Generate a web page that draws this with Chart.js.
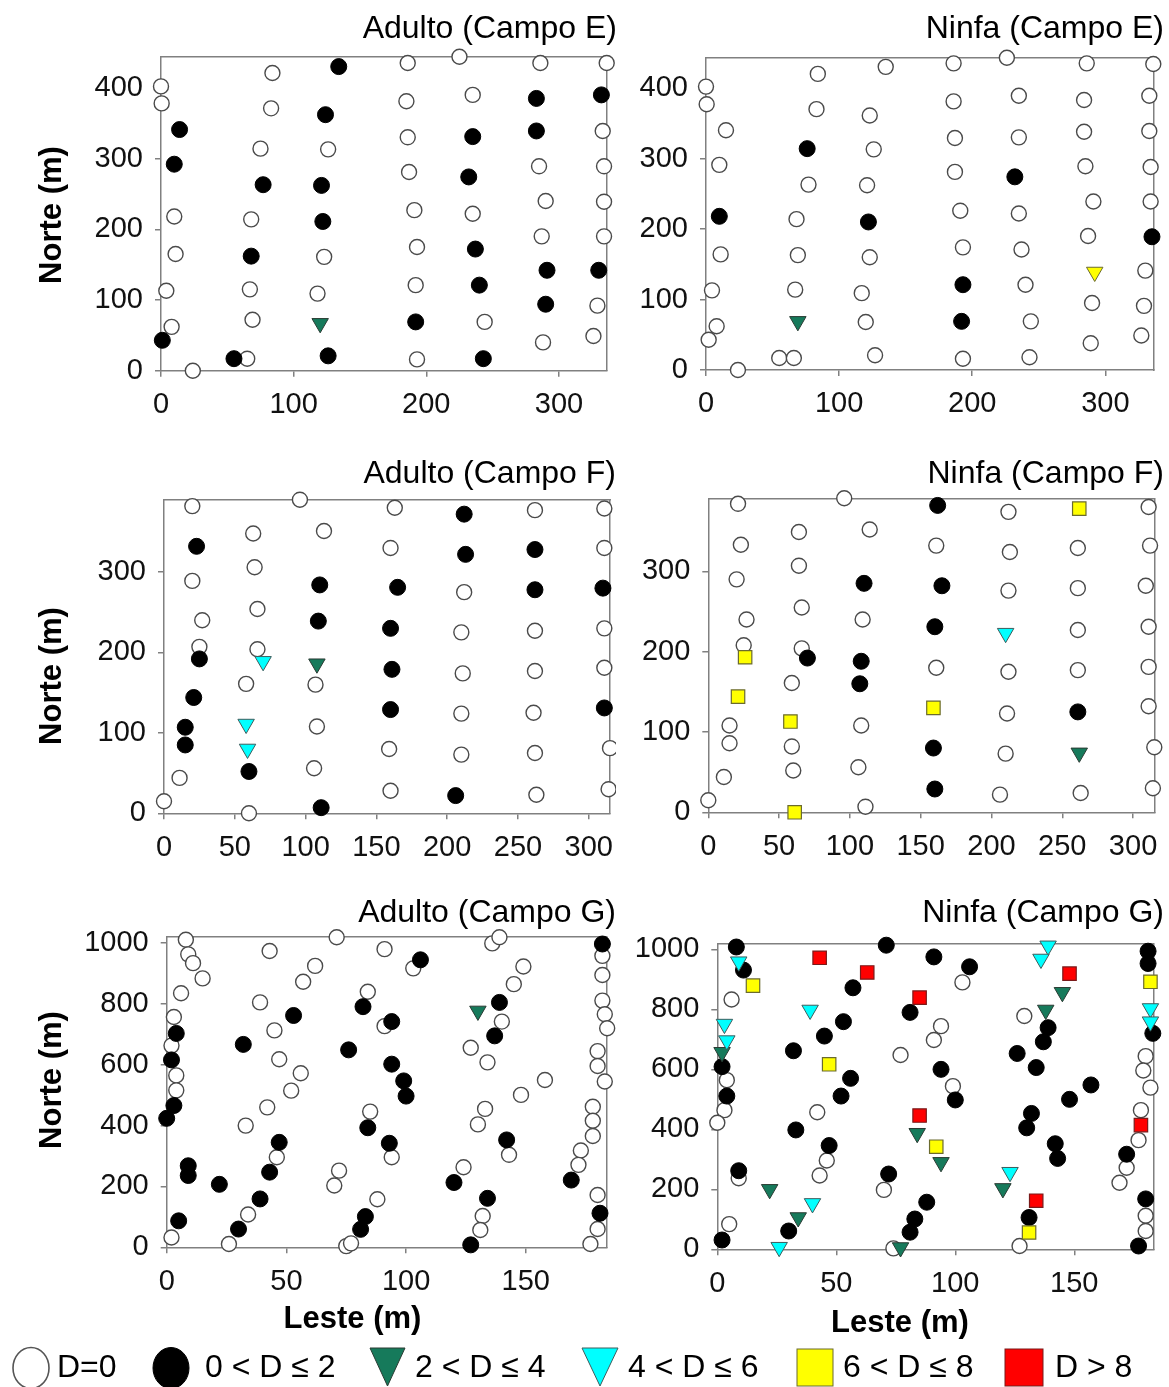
<!DOCTYPE html>
<html><head><meta charset="utf-8">
<script src="https://cdn.jsdelivr.net/npm/chart.js@4.4.1/dist/chart.umd.min.js"></script>
<style>
html,body{margin:0;padding:0;background:#fff;}
body{width:1169px;height:1387px;position:relative;overflow:hidden;}
canvas{position:absolute;}
#overlay{position:absolute;left:0;top:0;pointer-events:none;}
</style></head><body>
<canvas id="c1"></canvas><canvas id="c2"></canvas><canvas id="c3"></canvas>
<canvas id="c4"></canvas><canvas id="c5"></canvas><canvas id="c6"></canvas>
<svg id="overlay" width="1169" height="1387" xmlns="http://www.w3.org/2000/svg"></svg>
<script>
// ---------- tick values ----------
const xTicksE = [0,100,200,300];
const yTicksE = [0,100,200,300,400];
const xTicksF = [0,50,100,150,200,250,300];
const yTicksF = [0,100,200,300];
const xTicksG = [0,50,100,150];
const yTicksG = [0,200,400,600,800,1000];

// ---------- labels ----------
const panelTitles = ['Adulto (Campo E)','Ninfa (Campo E)','Adulto (Campo F)','Ninfa (Campo F)','Adulto (Campo G)','Ninfa (Campo G)'];
const legendLabels = ['D=0','0 < D \u2264 2','2 < D \u2264 4','4 < D \u2264 6','6 < D \u2264 8','D > 8'];
const yAxisTitle = 'Norte (m)';
const xAxisTitle = 'Leste (m)';

// ---------- Adulto (Campo E) ----------
const adultoE_D0 = [[0,402],[0.5,378],[84,421],[83,371],[75,314],[126,313],[68,214],[10,218],[11,165],[123,161],[4,113],[67,115],[118,109],[8,62],[69,72],[65,17],[24,0],[186,435],[225,444],[286,435],[336,435],[185,381],[235,390],[186,330],[333,339],[187,281],[285,289],[334,289],[191,227],[235,222],[290,240],[334,239],[193,175],[287,190],[334,190],[192,121],[244,69],[329,92],[288,40],[326,49],[193,16]];
const adultoE_D1 = [[134,430],[14,341],[124,362],[10,292],[283,385],[332,390],[283,339],[235,331],[77,263],[121,262],[232,274],[122,211],[68,162],[237,172],[291,142],[330,142],[240,121],[290,94],[192,69],[1,43],[55,17],[126,21],[243,17]];
const adultoE_D2 = [[120,67]];

// ---------- Ninfa (Campo E) ----------
const ninfaE_D0 = [[0,402],[0.5,377],[15,340],[10,291],[11,164],[4.5,113],[8,62],[2,43],[24,0],[84,420],[83,370],[77,263],[68,214],[69,163],[67,114],[55,17],[66,17],[135,430],[123,361],[126,313],[121,262],[123,160],[117,109],[120,68],[127,21],[186,435],[186,381],[187,329],[187,281],[191,226],[193,174],[193,16],[226,443],[235,389],[235,330],[235,222],[237,171],[240,121],[244,69],[243,18],[286,435],[284,383],[284,338],[285,289],[291,239],[287,190],[290,95],[289,38],[336,434],[333,389],[333,339],[334,288],[334,239],[330,141],[329,91],[327,49]];
const ninfaE_D1 = [[76,314],[10,218],[122,210],[232,274],[335,189],[193,121],[192,69]];
const ninfaE_D2 = [[69,69]];
const ninfaE_D4 = [[292,139]];

// ---------- Adulto (Campo F) ----------
const adultoF_D0 = [[20,382],[96,390],[63,348],[113,351],[163,380],[262,377],[311,379],[160,330],[311,330],[64,306],[20,289],[212,275],[66,254],[27,240],[210,225],[262,227],[311,230],[25,207],[66,204],[211,174],[262,177],[311,181],[58,161],[107,160],[108,108],[210,124],[261,125],[159,80],[210,73],[262,75],[315,81],[11,44],[106,56],[160,28],[263,23],[314,30],[0,15],[60,0]];
const adultoF_D1 = [[23,332],[212,372],[213,322],[262,328],[110,284],[165,281],[262,278],[310,280],[109,239],[160,230],[25,192],[161,179],[21,144],[160,129],[311,131],[15,107],[15,85],[60,52],[206,22],[111,7]];
const adultoF_D2 = [[108,186]];
const adultoF_D3 = [[70,189],[58,111],[59,80]];

// ---------- Ninfa (Campo F) ----------
const ninfaF_D0 = [[21,384],[96,391],[64,349],[114,352],[212,374],[311,380],[23,333],[161,332],[213,324],[261,329],[312,332],[64,307],[20,290],[212,276],[261,279],[309,282],[66,255],[27,240],[109,240],[261,227],[311,231],[25,208],[66,204],[161,180],[212,175],[261,177],[311,181],[59,161],[211,123],[311,132],[108,108],[15,108],[15,86],[59,82],[210,73],[315,81],[60,52],[11,44],[106,56],[206,22],[263,24],[314,30],[0,15],[111,7]];
const ninfaF_D1 = [[162,382],[110,285],[165,282],[160,231],[70,192],[108,188],[107,160],[261,125],[159,80],[160,29]];
const ninfaF_D2 = [[262,74]];
const ninfaF_D3 = [[210,223]];
const ninfaF_D4 = [[262,378],[26,193],[21,144],[58,113],[159,130],[61,0]];

// ---------- Adulto (Campo G) ----------
const adultoG_D0 = [[8,1011],[9,963],[11,934],[15,884],[6,835],[43,974],[71,1019],[91,980],[62,925],[57,873],[39,805],[84,840],[3,757],[45,713],[91,727],[2,663],[47,618],[56,572],[4,565],[4,516],[52,515],[42,460],[33,400],[85,446],[46,296],[94,296],[72,252],[70,203],[88,158],[34,108],[26,11],[2,32],[75,4],[77,13],[103,917],[136,999],[139,1019],[149,923],[145,865],[140,742],[127,656],[134,608],[158,550],[148,501],[133,455],[130,404],[143,304],[124,263],[132,103],[131,57],[182,958],[182,895],[182,811],[183,766],[184,720],[180,645],[180,596],[183,545],[178,462],[178,416],[178,366],[173,318],[172,271],[180,172],[180,60],[177,11]];
const adultoG_D1 = [[4,703],[2,616],[3,466],[0,424],[9,268],[9,236],[22,207],[5,87],[30,60],[39,159],[43,247],[47,345],[32,667],[53,762],[76,649],[82,791],[84,393],[83,101],[81,59],[94,742],[94,602],[93,342],[106,945],[99,547],[100,497],[120,213],[134,161],[127,8],[139,805],[137,695],[142,353],[169,221],[182,997],[181,112]];
const adultoG_D2 = [[130,777]];

// ---------- Ninfa (Campo G) ----------
const ninfaG_D0 = [[6,833],[4,564],[3,464],[0,422],[9,237],[42,457],[46,296],[43,246],[77,648],[70,198],[5,84],[74,3],[94,744],[91,698],[103,890],[99,544],[129,778],[180,644],[179,596],[182,539],[178,464],[177,364],[172,272],[169,222],[180,112],[180,61],[127,11]];
const ninfaG_D1 = [[8,1008],[11,931],[57,872],[53,759],[45,711],[32,662],[81,790],[71,1014],[91,975],[2,609],[4,511],[56,570],[52,511],[33,398],[47,346],[9,262],[72,251],[88,157],[83,101],[81,57],[30,61],[2,31],[94,600],[106,942],[100,498],[139,739],[137,692],[126,653],[134,606],[157,548],[148,500],[132,453],[130,405],[142,352],[143,303],[172,317],[131,106],[181,994],[181,953],[183,720],[180,168],[177,11]];
const ninfaG_D2 = [[2,657],[22,200],[34,106],[84,387],[77,6],[94,290],[145,857],[138,798],[120,203]];
const ninfaG_D3 = [[9,959],[39,798],[3,751],[4,696],[40,153],[26,7],[139,1012],[136,968],[182,803],[182,759],[123,257]];
const ninfaG_D4 = [[15,879],[47,617],[92,342],[182,892],[131,56]];
const ninfaG_D5 = [[43,972],[63,923],[85,839],[85,446],[148,919],[178,414],[134,162]];

// ---------- styles ----------
const FONT = "'Liberation Sans', Arial, Helvetica, sans-serif";
const GREEN = '#167a5b', CYAN = '#00ffff', YELLOW = '#ffff00', RED = '#ff0000';
const STYLES = {
  D0:{pointStyle:'circle', pointRadius:7.5, pointBackgroundColor:'#ffffff', pointBorderColor:'#4a4a4a', pointBorderWidth:1.4},
  D1:{pointStyle:'circle', pointRadius:8, pointBackgroundColor:'#000000', pointBorderColor:'#000000', pointBorderWidth:1},
  D2:{pointStyle:'triangle', pointRotation:180, pointRadius:9.5, pointBackgroundColor:GREEN, pointBorderColor:'#2a3b33', pointBorderWidth:1},
  D3:{pointStyle:'triangle', pointRotation:180, pointRadius:9.5, pointBackgroundColor:CYAN, pointBorderColor:'#3d5c5c', pointBorderWidth:1},
  D4:{pointStyle:'rect', pointRadius:9.5, pointBackgroundColor:YELLOW, pointBorderColor:'#6b6b2e', pointBorderWidth:1.2},
  D4tri:{pointStyle:'triangle', pointRotation:180, pointRadius:9.5, pointBackgroundColor:YELLOW, pointBorderColor:'#6b6b2e', pointBorderWidth:1},
  D5:{pointStyle:'rect', pointRadius:9.5, pointBackgroundColor:RED, pointBorderColor:'#7a1a1a', pointBorderWidth:1.2}
};

const panels = [
  {id:'c1', title:panelTitles[0], l:161, r:606.7, t:56.7, b:370.7, xMax:336, yMax:444, xTicks:xTicksE, yTicks:yTicksE, pb:8.7, rw:10, yw:140,
   series:[[adultoE_D2,'D2',legendLabels[2]],[adultoE_D1,'D1',legendLabels[1]],[adultoE_D0,'D0',legendLabels[0]]]},
  {id:'c2', title:panelTitles[1], l:706, r:1153.3, t:57.7, b:370, xMax:336, yMax:443, xTicks:xTicksE, yTicks:yTicksE, pb:9.7, rw:10.5, yw:100,
   series:[[ninfaE_D4,'D4tri',legendLabels[4]],[ninfaE_D2,'D2',legendLabels[2]],[ninfaE_D1,'D1',legendLabels[1]],[ninfaE_D0,'D0',legendLabels[0]]]},
  {id:'c3', title:panelTitles[2], l:164, r:610, t:500, b:813.3, xMax:315, yMax:389.6, xTicks:xTicksF, yTicks:yTicksF, pb:7, rw:6, yw:140,
   series:[[adultoF_D3,'D3',legendLabels[3]],[adultoF_D2,'D2',legendLabels[2]],[adultoF_D1,'D1',legendLabels[1]],[adultoF_D0,'D0',legendLabels[0]]]},
  {id:'c4', title:panelTitles[3], l:708.3, r:1154.3, t:499, b:812.3, xMax:315, yMax:390, xTicks:xTicksF, yTicks:yTicksF, pb:6, rw:9.7, yw:100,
   series:[[ninfaF_D4,'D4',legendLabels[4]],[ninfaF_D3,'D3',legendLabels[3]],[ninfaF_D2,'D2',legendLabels[2]],[ninfaF_D1,'D1',legendLabels[1]],[ninfaF_D0,'D0',legendLabels[0]]]},
  {id:'c5', title:panelTitles[4], l:166.7, r:606.7, t:936.7, b:1247.3, xMax:183.8, yMax:1021, xTicks:xTicksG, yTicks:yTicksG, pb:4.7, rw:9.3, yw:140,
   series:[[adultoG_D2,'D2',legendLabels[2]],[adultoG_D1,'D1',legendLabels[1]],[adultoG_D0,'D0',legendLabels[0]]]},
  {id:'c6', title:panelTitles[5], l:717.3, r:1153.3, t:944, b:1249.3, xMax:183.2, yMax:1018, xTicks:xTicksG, yTicks:yTicksG, pb:12, rw:10.7, yw:100,
   series:[[ninfaG_D5,'D5',legendLabels[5]],[ninfaG_D4,'D4',legendLabels[4]],[ninfaG_D3,'D3',legendLabels[3]],[ninfaG_D2,'D2',legendLabels[2]],[ninfaG_D1,'D1',legendLabels[1]],[ninfaG_D0,'D0',legendLabels[0]]]}
];

const AXIS_COLOR = '#808080';
const TITLE_SIZE = 32, TITLE_LH = TITLE_SIZE * 1.2;

function zeroPad(s){ s.paddingLeft = 0; s.paddingRight = 0; s.paddingTop = 0; s.paddingBottom = 0; }

function makeChart(p){
  const XH0 = 56;
  const L = Math.floor(p.l - p.yw);
  const T = Math.floor(p.t - (4 + TITLE_LH + p.pb));
  const W = Math.ceil(p.r + p.rw - L);
  const H = Math.ceil(p.b + XH0 - T);
  const yw = p.l - L, rw = W - (p.r - L), xh = H - (p.b - T), th = p.t - T;
  const titlePt = th - TITLE_LH - p.pb;
  const cv = document.getElementById(p.id);
  cv.width = W; cv.height = H;
  cv.style.left = L + 'px'; cv.style.top = T + 'px';
  cv.style.width = W + 'px'; cv.style.height = H + 'px';

  const datasets = p.series.map(([arr, st, label]) => Object.assign({
    label: label,
    data: arr.map(([x, y]) => ({x: x, y: y})),
    xAxisID: 'x', yAxisID: 'y', showLine: false, clip: false
  }, STYLES[st]));

  const tickFont = {family: FONT, size: 29};
  const frameBorder = {display: true, color: AXIS_COLOR, width: 1.5};
  const plainLabel = v => String(v);

  new Chart(cv, {
    type: 'scatter',
    data: {datasets: datasets},
    options: {
      responsive: false, animation: false, events: [],
      layout: {padding: 0, autoPadding: false},
      plugins: {
        legend: {display: false},
        tooltip: {enabled: false},
        title: {display: true, text: p.title, align: 'end', color: '#000',
                font: {family: FONT, size: TITLE_SIZE, weight: 'normal'},
                padding: {top: titlePt, bottom: p.pb}}
      },
      scales: {
        x: {type: 'linear', position: 'bottom', min: 0, max: p.xMax,
            afterBuildTicks: s => { s.ticks = p.xTicks.map(v => ({value: v})); },
            afterFit: s => { s.height = xh; zeroPad(s); },
            ticks: {font: tickFont, color: '#111', padding: 11, maxRotation: 0, autoSkip: false, callback: plainLabel},
            grid: {display: true, drawOnChartArea: false, drawTicks: true, tickLength: 6, color: AXIS_COLOR, lineWidth: 1.5},
            border: frameBorder},
        y: {type: 'linear', position: 'left', min: 0, max: p.yMax,
            afterBuildTicks: s => { s.ticks = p.yTicks.map(v => ({value: v})); },
            afterFit: s => { s.width = yw; zeroPad(s); },
            ticks: {font: tickFont, color: '#111', padding: 12, autoSkip: false, callback: plainLabel},
            grid: {display: true, drawOnChartArea: false, drawTicks: true, tickLength: 6, color: AXIS_COLOR, lineWidth: 1.5},
            border: frameBorder},
        x2: {type: 'linear', position: 'top', display: true, min: 0, max: 1,
             afterFit: s => { s.height = 0; zeroPad(s); },
             ticks: {display: false},
             grid: {display: true, drawOnChartArea: false, drawTicks: false},
             border: frameBorder},
        y2: {type: 'linear', position: 'right', display: true, min: 0, max: 1,
             afterFit: s => { s.width = rw; zeroPad(s); },
             ticks: {display: false},
             grid: {display: true, drawOnChartArea: false, drawTicks: false},
             border: frameBorder}
      }
    }
  });
}
panels.forEach(makeChart);

// ---------- axis titles and legend (SVG text) ----------
const NS = 'http://www.w3.org/2000/svg';
const svg = document.getElementById('overlay');
function el(tag, attrs, text){
  const e = document.createElementNS(NS, tag);
  for (const k in attrs) e.setAttribute(k, attrs[k]);
  if (text !== undefined) e.textContent = text;
  svg.appendChild(e); return e;
}
const SVGFONT = 'Liberation Sans, Arial, Helvetica, sans-serif';
[[61,215],[61,676],[61,1080]].forEach(([x,y]) => {
  el('text', {x:0, y:0, transform:`translate(${x},${y}) rotate(-90)`, 'text-anchor':'middle',
              'font-family':SVGFONT, 'font-size':31, 'font-weight':'bold', fill:'#000'}, yAxisTitle);
});
[[352.5,1328],[900,1332]].forEach(([x,y]) => {
  el('text', {x:x, y:y, 'text-anchor':'middle', 'font-family':SVGFONT, 'font-size':31, 'font-weight':'bold', fill:'#000'}, xAxisTitle);
});

// legend symbols
el('ellipse', {cx:31, cy:1368, rx:18, ry:20.5, fill:'#fff', stroke:'#555', 'stroke-width':1.6});
el('ellipse', {cx:171, cy:1368, rx:18, ry:20.5, fill:'#000', stroke:'#000', 'stroke-width':1});
el('polygon', {points:'370,1348 405,1348 387.5,1386', fill:GREEN, stroke:'#2a3b33', 'stroke-width':1});
el('polygon', {points:'582,1348 618,1348 600,1386', fill:CYAN, stroke:'#3d5c5c', 'stroke-width':1});
el('rect', {x:797, y:1349, width:36, height:37, fill:YELLOW, stroke:'#6b6b2e', 'stroke-width':1});
el('rect', {x:1005, y:1349, width:38, height:37, fill:RED, stroke:'#7a1a1a', 'stroke-width':1});
const legendX = [57, 205, 415, 628, 843, 1055];
legendLabels.forEach((t, i) => {
  el('text', {x:legendX[i], y:1377, 'font-family':SVGFONT, 'font-size':32, fill:'#000'}, t);
});
</script>
</body></html>
